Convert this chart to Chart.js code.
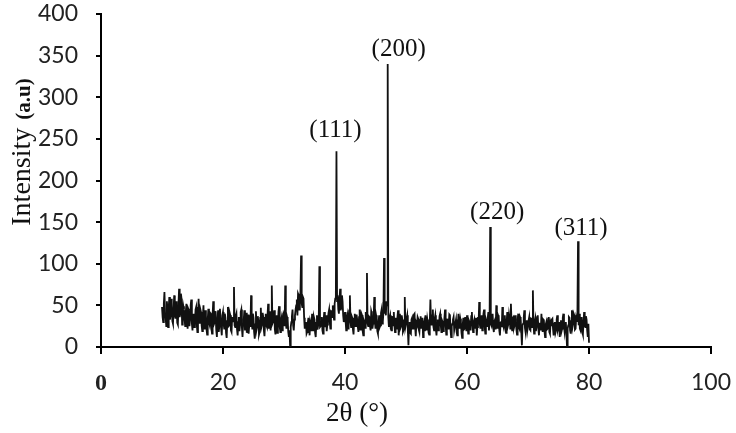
<!DOCTYPE html>
<html>
<head>
<meta charset="utf-8">
<title>XRD pattern</title>
<script src="https://cdn.jsdelivr.net/npm/chart.js@4/dist/chart.umd.min.js"></script>
<style>
  body { margin: 0; background: #fff; }
  #wrap { width: 736px; height: 433px; }
</style>
</head>
<body>
<div id="wrap"><canvas id="canvas1" width="736" height="433"></canvas></div>
<script>
// 2theta grid: 10 to 80 deg, 0.1 deg step
var startAngle = 10;
var stepAngle = 0.1;

// intensity, one row = 2 degrees
var intensity = [
  48, 36, 30, 52, 66, 41, 35, 25, 55, 44, 24, 47, 60, 33, 38, 58, 50, 31, 28, 45,  // 10
  62, 39, 34, 55, 47, 29, 27, 51, 70, 36, 40, 64, 58, 27, 30, 49, 45, 33, 25, 42,  // 12
  52, 31, 22, 46, 44, 25, 33, 50, 57, 28, 20, 38, 40, 24, 30, 45, 48, 27, 18, 36,  // 14
  58, 34, 28, 45, 42, 26, 19, 37, 50, 22, 31, 44, 38, 21, 15, 33, 46, 30, 27, 41,  // 16
  40, 23, 16, 39, 55, 27, 29, 43, 36, 20, 12, 35, 44, 18, 25, 46, 33, 22, 14, 38,  // 18
  42, 28, 22, 40, 35, 17, 11, 31, 48, 25, 26, 41, 38, 20, 18, 36, 30, 34, 72, 26,  // 20
  24, 37, 40, 21, 14, 30, 36, 19, 27, 42, 45, 23, 12, 28, 33, 44, 20, 31, 41, 17,  // 22
  28, 39, 16, 26, 38, 24, 62, 30, 22, 40, 35, 18, 10, 27, 43, 21, 25, 37, 31, 15,  // 24
  18, 35, 47, 24, 27, 41, 36, 20, 13, 29, 40, 26, 24, 38, 52, 22, 29, 43, 20, 33,  // 26
  74, 28, 30, 39, 44, 21, 15, 34, 38, 17, 26, 43, 49, 24, 18, 31, 35, 20, 27, 40,  // 28
  42, 25, 74, 30, 22, 36, 33, 18, 12, 20, 1, 24, 30, 37, 45, 26, 20, 33, 38, 45,   // 30
  50, 57, 38, 64, 62, 45, 55, 66, 110, 52, 48, 60, 58, 35, 22, 28, 30, 16, 18, 29, // 32
  35, 22, 14, 31, 28, 19, 40, 25, 20, 36, 33, 17, 12, 29, 38, 21, 26, 35, 97, 24,  // 34
  25, 30, 36, 20, 16, 33, 42, 24, 28, 38, 19, 27, 34, 41, 45, 30, 22, 44, 40, 36,  // 36
  50, 42, 33, 52, 58, 60, 235, 55, 62, 45, 40, 58, 70, 44, 48, 62, 55, 38, 30, 36, // 38
  42, 31, 20, 34, 38, 22, 28, 44, 62, 30, 24, 37, 35, 21, 15, 33, 40, 25, 27, 39,  // 40
  33, 24, 18, 36, 45, 21, 26, 40, 38, 19, 14, 32, 30, 23, 42, 31, 89, 28, 25, 37,  // 42
  36, 25, 20, 43, 40, 22, 28, 35, 60, 31, 22, 38, 34, 19, 16, 30, 38, 24, 26, 41,  // 44
  45, 28, 30, 42, 107, 40, 52, 38, 55, 50, 340, 36, 24, 35, 38, 22, 20, 37, 33, 26, // 46
  42, 26, 18, 35, 30, 21, 36, 44, 14, 27, 40, 23, 25, 38, 33, 18, 20, 31, 60, 24,  // 48
  28, 34, 38, 20, 2, 25, 30, 17, 16, 33, 35, 22, 22, 39, 40, 24, 13, 29, 27, 36,   // 50
  34, 21, 18, 31, 37, 23, 24, 35, 12, 26, 30, 19, 38, 27, 20, 33, 28, 17, 15, 30,  // 52
  57, 30, 26, 38, 45, 24, 20, 34, 38, 21, 14, 29, 33, 20, 24, 37, 40, 26, 18, 32,  // 54
  30, 19, 22, 35, 45, 27, 15, 28, 34, 22, 26, 39, 38, 21, 12, 25, 28, 33, 36, 20,  // 56
  20, 29, 33, 18, 14, 26, 40, 23, 25, 34, 30, 17, 11, 27, 35, 21, 22, 36, 28, 19,  // 58
  38, 25, 16, 32, 30, 21, 24, 37, 42, 26, 18, 30, 33, 22, 27, 35, 14, 24, 36, 29,  // 60
  54, 27, 22, 36, 38, 20, 28, 40, 45, 24, 16, 33, 30, 25, 35, 42, 20, 30, 144, 28, // 62
  26, 37, 40, 23, 18, 31, 33, 21, 50, 28, 22, 38, 36, 20, 14, 29, 30, 24, 48, 27,  // 64
  24, 33, 38, 22, 17, 30, 42, 25, 28, 39, 34, 22, 52, 29, 20, 35, 36, 23, 26, 38,  // 66
  30, 21, 15, 33, 40, 24, 22, 36, 34, 18, 2, 26, 28, 35, 44, 23, 18, 30, 32, 20,   // 68
  25, 32, 36, 21, 20, 35, 30, 24, 68, 27, 16, 30, 34, 19, 24, 36, 38, 22, 14, 28,  // 70
  28, 20, 40, 26, 18, 33, 32, 19, 12, 27, 30, 21, 22, 34, 36, 18, 16, 29, 26, 33,  // 72
  34, 22, 14, 28, 30, 17, 20, 33, 38, 21, 24, 30, 12, 25, 32, 19, 22, 35, 40, 24,  // 74
  18, 27, 30, 15, 0, 22, 26, 36, 35, 20, 16, 31, 44, 24, 28, 40, 38, 21, 22, 34,   // 76
  30, 38, 127, 26, 40, 22, 20, 35, 36, 18, 15, 30, 42, 25, 24, 37, 33, 20, 12, 28, // 78
  5                                                                                // 80
];

// peak labels (hkl)
var peakLabels = ['(111)', '(200)', '(220)', '(311)'];
var peakAngles = [38.6, 47.0, 63.8, 78.2];
var peakHeights = [235, 340, 144, 127];

var xTicks = [0, 20, 40, 60, 80, 100];
var yTicks = [0, 50, 100, 150, 200, 250, 300, 350, 400];

var twoTheta = [];
for (var i = 0; i < intensity.length; i++) {
  twoTheta.push(+(startAngle + i * stepAngle).toFixed(1));
}

var points = twoTheta.map(function (a, i) { return { x: a, y: intensity[i] }; });

var serif = '"Liberation Serif", "Times New Roman", serif';
var sans = 'Lato, "Open Sans", sans-serif';

// label placement (style only): dx, gap above peak top
var peakLabelStyle = [[-1, 21], [11, 15], [7, 15], [3, 13]];

var annotate = {
  id: 'annotate',
  afterDraw: function (chart) {
    var ctx = chart.ctx;
    var xs = chart.scales.x, ys = chart.scales.y;
    ctx.save();
    ctx.fillStyle = '#111';

    // peak labels
    ctx.font = '25px ' + serif;
    ctx.textAlign = 'center';
    ctx.textBaseline = 'middle';
    peakLabels.forEach(function (lab, i) {
      var px = xs.getPixelForValue(peakAngles[i]) + peakLabelStyle[i][0];
      var py = ys.getPixelForValue(peakHeights[i]) - peakLabelStyle[i][1];
      ctx.fillText(lab, px, py);
    });

    // x axis title
    ctx.font = '27px ' + serif;
    ctx.fillText('2θ (°)', 357, 414);

    // y axis title, mixed fonts
    ctx.translate(30, 152);
    ctx.rotate(-Math.PI / 2);
    ctx.textBaseline = 'alphabetic';
    ctx.textAlign = 'left';
    var f1 = '28px ' + serif, f2 = 'bold 21px ' + serif;
    ctx.font = f1;
    var w1 = ctx.measureText('Intensity').width;
    ctx.font = f2;
    var w2 = ctx.measureText('(a.u)').width;
    var gap = 8;
    var x0 = -(w1 + gap + w2) / 2;
    ctx.font = f1;
    ctx.fillText('Intensity', x0, 0);
    ctx.font = f2;
    ctx.fillText('(a.u)', x0 + w1 + gap, 0);
    ctx.restore();
  }
};

var myChart = {
  type: 'line',
  data: {
    datasets: [{
      label: 'XRD',
      data: points,
      borderColor: '#111',
      borderWidth: 1.8,
      pointRadius: 0,
      tension: 0,
      fill: false
    }]
  },
  options: {
    responsive: false,
    animation: false,
    layout: { padding: { left: 0, right: 25, top: 14, bottom: 0 } },
    plugins: {
      legend: { display: false },
      tooltip: { enabled: false }
    },
    scales: {
      x: {
        type: 'linear',
        min: 0,
        max: 100,
        afterBuildTicks: function (s) { s.ticks = xTicks.map(function (v) { return { value: v }; }); },
        afterFit: function (s) { s.height = 86; s.paddingLeft = 0; s.paddingRight = 0; },
        border: { display: true, color: '#000', width: 2 },
        grid: { display: true, drawOnChartArea: false, drawTicks: true, tickLength: 7, color: '#000', lineWidth: 2 },
        ticks: {
          color: '#222',
          padding: 15,
          maxRotation: 0,
          font: function (c) {
            if (c.tick && c.tick.value === 0) return { family: serif, size: 24, weight: 'bold' };
            return { family: sans, size: 23 };
          }
        }
      },
      y: {
        min: 0,
        max: 400,
        afterBuildTicks: function (s) { s.ticks = yTicks.map(function (v) { return { value: v }; }); },
        afterFit: function (s) { s.width = 101; s.paddingTop = 0; s.paddingBottom = 0; },
        border: { display: true, color: '#000', width: 2 },
        grid: { display: true, drawOnChartArea: false, drawTicks: true, tickLength: 5, color: '#000', lineWidth: 2 },
        ticks: {
          color: '#222',
          padding: 18,
          font: { family: sans, size: 23 }
        }
      }
    }
  },
  plugins: [annotate]
};

window.onload = function () {
  var ctx = document.getElementById('canvas1').getContext('2d');
  new Chart(ctx, myChart);
};
</script>
</body>
</html>
